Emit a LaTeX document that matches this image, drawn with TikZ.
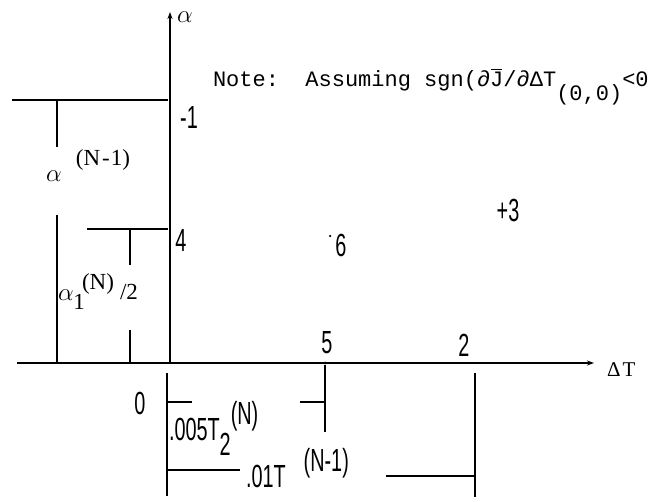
\documentclass[tikz,border=0pt]{standalone}
\usepackage{fontspec}
\usepackage{graphicx}
\usetikzlibrary{arrows.meta}
\newfontfamily\numfont{Liberation Sans}
\newfontfamily\notefont{Liberation Mono}
\newfontfamily\serfont{Liberation Serif}
\newcommand\narrowtxt[1]{{\numfont\fontsize{32}{32}\selectfont\scalebox{0.62}[1]{#1}}}
\newcommand\serlabel[1]{{\serfont\fontsize{23}{23}\selectfont #1}}
\newcommand\alphalbl{{\fontsize{24}{24}\selectfont$\alpha$}}
\tikzset{
  axisline/.style={line width=1.3pt, -{Stealth[length=7pt,width=5pt]}},
  dimline/.style={line width=1.1pt},
  lbl/.style={inner sep=0pt, outer sep=0pt},
  pt/.style={circle, fill=black, inner sep=0pt, minimum size=3pt}
}
\begin{document}
\begin{tikzpicture}[x=1pt,y=-1pt]
\useasboundingbox (0,0) rectangle (669,502);
\fill[white] (0,0) rectangle (669,502);
% axes
\coordinate (O) at (170,363);
\coordinate (Ytop) at (170,12);
\coordinate (Xleft) at (17,363);
\coordinate (Xright) at (594,363);
\draw[axisline] (O) -- (Ytop);
\draw[axisline] (Xleft) -- (Xright);
\node[lbl] (alab) at (185,17) {\alphalbl};
\node[lbl, anchor=west] (dtlab) at (607,370) {\serfont\fontsize{21}{21}\selectfont Δ\kern2pt T};
% note
\node[lbl, anchor=base west] (note) at (213,87) {\notefont\fontsize{22}{22}\selectfont Note:\ \ Assuming sgn(∂\leavevmode\rlap{\kern1pt\raisebox{17pt}{\rule{11pt}{1pt}}}J/∂ΔT\raisebox{-14pt}{(0,0)}<0};
% level -1
\coordinate (L1a) at (12,100);
\coordinate (L1b) at (168,100);
\draw[dimline] (L1a) -- (L1b);
\node[lbl] (m1) at (189,117) {\narrowtxt{-1}};
% alpha^(N-1) dimension
\coordinate (D1a) at (57,100);
\coordinate (D1b) at (57,147);
\coordinate (D1c) at (57,215);
\coordinate (D1d) at (57,363);
\draw[dimline] (D1a) -- (D1b);
\draw[dimline] (D1c) -- (D1d);
\node[lbl] (aN1) at (54,176) {\alphalbl};
\node[lbl] (N1) at (103,160) {\serlabel{(N\kern2pt-\kern1pt1)}};
% level 4
\coordinate (L4a) at (87,229);
\coordinate (L4b) at (168,229);
\draw[dimline] (L4a) -- (L4b);
\node[lbl] (p4) at (181,240) {\narrowtxt{4}};
\coordinate (D4a) at (130,229);
\coordinate (D4b) at (130,265);
\coordinate (D4c) at (130,330);
\coordinate (D4d) at (130,363);
\draw[dimline] (D4a) -- (D4b);
\draw[dimline] (D4c) -- (D4d);
\node[lbl] (a1) at (66,295) {\alphalbl};
\node[lbl] (a1sub) at (79,302) {\serlabel{1}};
\node[lbl] (a1N) at (98,284) {\serlabel{(N)}};
\node[lbl] (a1half) at (129,292) {\serlabel{/2}};
% points 6 and 3
\node[pt, minimum size=2.5pt] (d6) at (330,236) {};
\node[lbl] (p6) at (341,245) {\narrowtxt{6}};
\node[lbl] (p3) at (508,210) {\narrowtxt{+3}};
% points 5 and 2 on axis
\node[pt] (d5) at (325,363) {};
\node[lbl] (p5) at (327,343) {\narrowtxt{5}};
\node[lbl] (p2) at (464,345) {\narrowtxt{2}};
\node[lbl] (p0) at (140,403) {\narrowtxt{0}};
% dimensions below axis
\coordinate (B0a) at (167,373);
\coordinate (B0b) at (167,496);
\draw[dimline] (B0a) -- (B0b);
\coordinate (T1a) at (167,402);
\coordinate (T1b) at (192,402);
\draw[dimline] (T1a) -- (T1b);
\coordinate (T1c) at (300,402);
\coordinate (T1d) at (325,402);
\draw[dimline] (T1c) -- (T1d);
\coordinate (B5a) at (325,365);
\coordinate (B5b) at (325,432);
\draw[dimline] (B5a) -- (B5b);
\node[lbl, anchor=base west] (t005) at (169,440) {\narrowtxt{.005T}\raisebox{-15pt}{\narrowtxt{2}}\raisebox{16pt}{\narrowtxt{(N)}}};
\coordinate (T2a) at (167,470);
\coordinate (T2b) at (240,470);
\draw[dimline] (T2a) -- (T2b);
\coordinate (T2c) at (386,476);
\coordinate (T2d) at (475,476);
\draw[dimline] (T2c) -- (T2d);
\coordinate (B2a) at (475,373);
\coordinate (B2b) at (475,497);
\draw[dimline] (B2a) -- (B2b);
\node[lbl, anchor=base west] (t01) at (246,487) {\narrowtxt{.01T}\hspace{18pt}\raisebox{16pt}{\narrowtxt{(N-1)}}};
\end{tikzpicture}
\end{document}
